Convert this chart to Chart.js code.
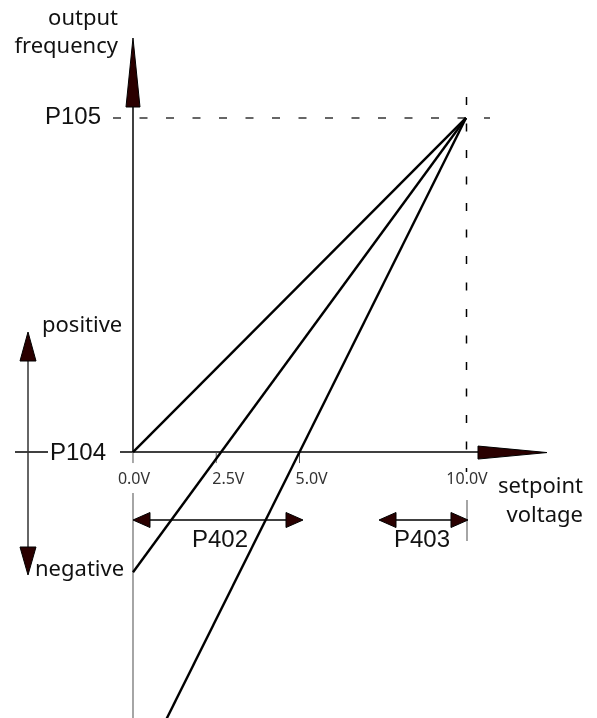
<!DOCTYPE html>
<html>
<head>
<meta charset="utf-8">
<script src="https://cdn.jsdelivr.net/npm/chart.js@4"></script>
<style>
  html, body { margin: 0; padding: 0; background: #fff; }
  #wrap { width: 597px; height: 718px; position: relative; }
</style>
</head>
<body>
<div id="wrap"><canvas id="kennlinie"></canvas></div>
<script>
// setpoint voltage ticks (V)
const xTickValues = [0, 2.5, 5, 10];
const xTickLabels = ['0.0V', '2.5V', '5.0V', '10.0V'];

// frequency levels: 0 = P104, 1 = P105
const yLevelValues = [0, 1];
const yLevelLabels = ['P104', 'P105'];

// characteristic curves (x in volts, y normalised frequency)
const curveGainX = [0, 10];
const curveGainY = [0, 1];
const curveOffsetX = [0, 10];
const curveOffsetY = [-0.36, 1];
const curveSteepX = [1.0, 10];
const curveSteepY = [-0.8, 1];

const spanLabels = ['P402', 'P403'];

const toPoints = (xs, ys) => xs.map((x, i) => ({ x, y: ys[i] }));

const INK = '#111';
const ARROW = '#2a0000';
const SANS = '"Noto Sans", "DejaVu Sans", sans-serif';
const ARIAL = '"Liberation Sans", Arial, sans-serif';

// filled arrow head, tip at (x, y), pointing in direction (dx, dy)
const arrowHead = (ctx, x, y, dx, dy, len, half) => {
    const bx = x - dx * len, by = y - dy * len;
    ctx.beginPath();
    ctx.moveTo(x, y);
    ctx.lineTo(bx - dy * half, by + dx * half);
    ctx.lineTo(bx + dy * half, by - dx * half);
    ctx.closePath();
    ctx.fillStyle = ARROW;
    ctx.fill();
    ctx.strokeStyle = '#000';
    ctx.lineWidth = 1;
    ctx.stroke();
};

const line = (ctx, x1, y1, x2, y2, color, width, dash) => {
    ctx.save();
    ctx.beginPath();
    ctx.setLineDash(dash || []);
    ctx.moveTo(x1, y1);
    ctx.lineTo(x2, y2);
    ctx.strokeStyle = color;
    ctx.lineWidth = width;
    ctx.stroke();
    ctx.restore();
};

const text = (ctx, str, x, y, font, align) => {
    ctx.font = font;
    ctx.fillStyle = INK;
    ctx.textAlign = align || 'left';
    ctx.textBaseline = 'middle';
    ctx.fillText(str, x, y);
};

// axes, reference dashes and dimension arrows
const diagramPlugin = {
    id: 'diagram',
    beforeDatasetsDraw(chart) {
        const { ctx, scales: { x, y } } = chart;
        const x0 = x.getPixelForValue(0);
        const xEnd = x.getPixelForValue(10);
        const yLow = y.getPixelForValue(yLevelValues[0]);
        const yHigh = y.getPixelForValue(yLevelValues[1]);

        ctx.save();
        // reference dashes to P105 / 10 V
        line(ctx, 113, yHigh, 490, yHigh, '#666', 2, [8, 18.5]);
        line(ctx, xEnd + 0.5, 97, xEnd + 0.5, 472, '#000', 1.5, [8, 18.5]);

        // frequency axis
        line(ctx, x0, 100, x0, yLow, '#000', 1.5);
        line(ctx, x0, 493, x0, 718, '#888', 1.5);

        // voltage axis
        line(ctx, x0 - 13, yLow, 480, yLow, '#000', 1.5);
        line(ctx, 15, yLow, 48, yLow, '#000', 1.5);

        // ticks and their labels
        ctx.font = '16px ' + SANS;
        xTickValues.forEach((v, i) => {
            const px = x.getPixelForValue(v);
            if (v !== 10) line(ctx, px, yLow, px, yLow + 11, '#555', 1);
            const inner = i > 0 && i < xTickValues.length - 1;
            ctx.fillStyle = '#333';
            ctx.textAlign = inner ? 'left' : 'center';
            ctx.textBaseline = 'middle';
            ctx.fillText(xTickLabels[i], inner ? px - 4 : px + 1, 479);
        });

        // level labels
        text(ctx, yLevelLabels[1], 45, yHigh - 1, '24px ' + ARIAL);
        text(ctx, yLevelLabels[0], 50, yLow + 1, '24px ' + ARIAL);

        // axis titles
        text(ctx, 'output', 118, 19, '22px ' + SANS, 'right');
        text(ctx, 'frequency', 118, 47, '22px ' + SANS, 'right');
        text(ctx, 'setpoint', 583, 487, '22px ' + SANS, 'right');
        text(ctx, 'voltage', 583, 516, '22px ' + SANS, 'right');

        // direction indicator on the left
        line(ctx, 28, 358, 28, 550, '#333', 1.5);
        text(ctx, 'positive', 42, 326, '22px ' + SANS);
        text(ctx, 'negative', 35, 570, '22px ' + SANS);

        // dimension spans P402 (0 .. 5 V) and P403 (near 10 V)
        const spanY = 520;
        const p402a = x0, p402b = 303;
        const p403a = 379, p403b = xEnd + 2;
        line(ctx, p402a + 10, spanY, p402b - 10, spanY, '#000', 1.5);
        line(ctx, p403a + 10, spanY, p403b - 10, spanY, '#000', 1.5);
        line(ctx, xEnd + 1, 500, xEnd + 1, 541, '#888', 1.5);
        text(ctx, spanLabels[0], (p402a + p402b) / 2 + 2, 540, '24px ' + ARIAL, 'center');
        text(ctx, spanLabels[1], 422, 540, '24px ' + ARIAL, 'center');
        ctx.restore();
    },
    afterDatasetsDraw(chart) {
        const { ctx, scales: { x, y } } = chart;
        const x0 = x.getPixelForValue(0);
        const xEnd = x.getPixelForValue(10);
        const yLow = y.getPixelForValue(0);
        ctx.save();
        arrowHead(ctx, x0, 38, 0, -1, 69, 7);
        arrowHead(ctx, 547, yLow + 0.5, 1, 0, 69, 6.5);
        arrowHead(ctx, 28, 332, 0, -1, 29, 8);
        arrowHead(ctx, 28, 575, 0, 1, 28, 8);
        arrowHead(ctx, x0, 520, -1, 0, 17, 7.5);
        arrowHead(ctx, 303, 520, 1, 0, 17, 7.5);
        arrowHead(ctx, 379, 520, -1, 0, 17, 7.5);
        arrowHead(ctx, xEnd + 2, 520, 1, 0, 17, 7.5);
        ctx.restore();
    }
};

const curveStyle = { borderColor: '#000', borderWidth: 2.4, pointRadius: 0, showLine: true, fill: false };

new Chart(document.getElementById('kennlinie'), {
    type: 'scatter',
    data: {
        datasets: [
            { label: 'gain', data: toPoints(curveGainX, curveGainY), ...curveStyle },
            { label: 'offset', data: toPoints(curveOffsetX, curveOffsetY), ...curveStyle },
            { label: 'steep', data: toPoints(curveSteepX, curveSteepY), ...curveStyle }
        ]
    },
    options: {
        responsive: true,
        maintainAspectRatio: false,
        animation: false,
        layout: { padding: 0 },
        plugins: { legend: { display: false }, tooltip: { enabled: false } },
        scales: {
            x: { type: 'linear', min: -3.994, max: 13.934, display: false },
            y: { type: 'linear', min: -0.796, max: 1.353, display: false }
        }
    },
    plugins: [diagramPlugin]
});
</script>
</body>
</html>
